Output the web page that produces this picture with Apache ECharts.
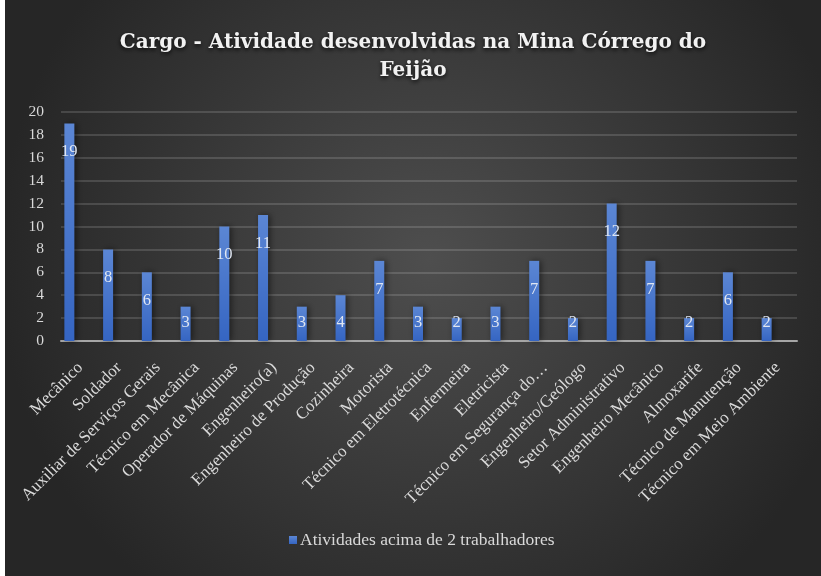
<!DOCTYPE html>
<html>
<head>
<meta charset="utf-8">
<script src="https://cdn.jsdelivr.net/npm/echarts@6/dist/echarts.min.js"></script>
<style>
    html, body { margin: 0; padding: 0; background: #ffffff; }
    #main { position: absolute; left: 5px; top: 0; width: 816px; height: 576px; }
</style>
</head>
<body>
<div id="main"></div>
<script>
// cargos (eixo x)
var cargos = ['Mecânico', 'Soldador', 'Auxiliar de Serviços Gerais', 'Técnico em Mecânica',
    'Operador de Máquinas', 'Engenheiro(a)', 'Engenheiro de Produção', 'Cozinheira', 'Motorista',
    'Técnico em Eletrotécnica', 'Enfermeira', 'Eletricista', 'Técnico em Segurança do…',
    'Engenheiro/Geólogo', 'Setor Administrativo', 'Engenheiro Mecânico', 'Almoxarife',
    'Técnico de Manutenção', 'Técnico em Meio Ambiente'];
// quantidade de trabalhadores
var atividades = [19, 8, 6, 3, 10, 11, 3, 4, 7, 3, 2, 3, 7, 2, 12, 7, 2, 6, 2];
var yTicks = [0, 20, 2];   // min, max, intervalo

var serifFont = '"Liberation Serif", "DejaVu Serif", serif';

var chart = echarts.init(document.getElementById('main'));

//rótulos: barras baixas ficam com o rótulo preso perto da base
var barData = atividades.map(function (v) {
    return {
        value: v,
        label: v <= 4 ? { position: 'insideBottom', distance: 10 } : { position: 'insideTop', distance: 20 }
    };
});

option = {
    backgroundColor: {
        type: 'radial', x: 0.52, y: 0.45, r: 0.75,
        colorStops: [
            { offset: 0, color: '#4e4e4e' },
            { offset: 1, color: '#262626' }
        ]
    },
    title: {
        text: 'Cargo - Atividade desenvolvidas na Mina Córrego do\nFeijão',
        left: 'center',
        top: 24,
        textStyle: {
            fontFamily: '"DejaVu Serif", serif',
            fontWeight: 'bold',
            fontSize: 20,
            lineHeight: 28,
            color: '#f2f2f2',
            textShadowColor: 'rgba(0,0,0,0.8)',
            textShadowBlur: 4,
            textShadowOffsetY: 2
        }
    },
    legend: {
        bottom: 22,
        left: 279,
        data: ['Atividades acima de 2 trabalhadores'],
        itemWidth: 8,
        itemHeight: 8,
        itemGap: 4,
        icon: 'rect',
        textStyle: { fontFamily: serifFont, fontSize: 17.5, color: '#d9d9d9', padding: [0, 0, 0, -2] }
    },
    grid: {
        left: 56,
        right: 24,
        top: 112,
        bottom: 235,
        containLabel: false
    },
    xAxis: [{
        type: 'category',
        data: cargos,
        axisTick: { show: false },
        axisLine: { lineStyle: { color: '#a6a6a6', width: 2 } },
        axisLabel: {
            interval: 0,
            rotate: 45,
            margin: 24,
            fontFamily: serifFont,
            fontSize: 17,
            color: '#d9d9d9'
        }
    }],
    yAxis: [{
        type: 'value',
        min: yTicks[0],
        max: yTicks[1],
        interval: yTicks[2],
        axisLabel: { fontFamily: serifFont, fontSize: 15.5, color: '#d9d9d9', margin: 17 },
        splitLine: { lineStyle: { color: 'rgba(255,255,255,0.14)', width: 2 } }
    }],
    series: [{
        name: 'Atividades acima de 2 trabalhadores',
        type: 'bar',
        data: barData,
        barWidth: 10,
        barGap: '120%',
        itemStyle: {
            color: {
                type: 'linear', x: 0, y: 0, x2: 0, y2: 1,
                colorStops: [
                    { offset: 0, color: '#5b86d4' },
                    { offset: 1, color: '#3565c2' }
                ]
            },
            shadowColor: 'rgba(0,0,0,0.5)',
            shadowBlur: 6,
            shadowOffsetX: 2
        },
        label: {
            show: true,
            fontFamily: serifFont,
            fontSize: 16.5,
            color: '#dfe6f2'
        }
    }, {
        //série vazia, só para deslocar as barras como no original
        name: 'vazio',
        type: 'bar',
        data: atividades.map(function () { return '-'; }),
        barWidth: 10
    }]
};

chart.setOption(option);
</script>
</body>
</html>
